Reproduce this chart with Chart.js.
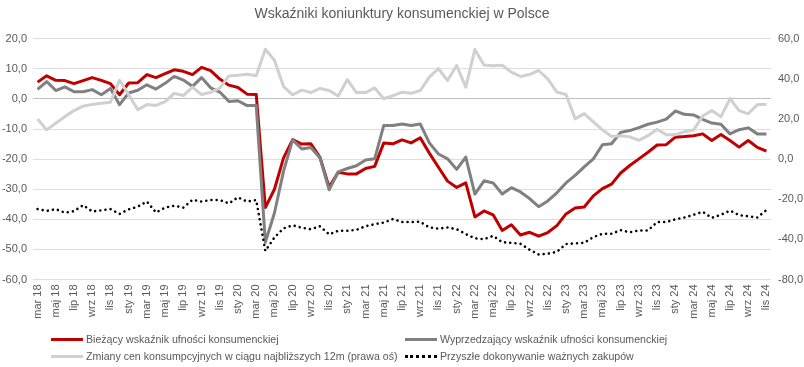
<!DOCTYPE html>
<html><head><meta charset="utf-8">
<script src="https://cdn.jsdelivr.net/npm/chart.js@4/dist/chart.umd.min.js"></script>
<style>
html,body{margin:0;padding:0;background:#fff;}
#wrap{position:relative;width:804px;height:367px;overflow:hidden;}
#c{position:absolute;left:0;top:0;}
#legend{position:absolute;left:0;top:0;width:804px;height:367px;pointer-events:none;font-family:"Liberation Sans",Arial,sans-serif;font-size:10.6px;color:#595959;}
.item{position:absolute;display:flex;align-items:center;white-space:nowrap;height:14px;}
.swatch{display:inline-block;width:32px;height:0;margin-right:3px;}
</style></head>
<body><div id="wrap"><canvas id="c" width="804" height="367" style="width:804px;height:367px"></canvas><div id="legend"></div></div>
<script>
const monthNames = ['sty','lut','mar','kwi','maj','cze','lip','sie','wrz','paź','lis','gru'];
const startYear = 2018, startMonth = 2, monthCount = 81; // mar 18 .. lis 24

const bwuk = [5.6,7.7,6.2,6.1,5.1,6.1,7.1,6.2,5.1,1.4,5.3,5.4,8.1,7.1,8.4,9.7,9.2,8.1,10.5,9.4,
6.6,4.6,3.8,1.6,1.5,-36.1,-30.0,-19.6,-13.5,-15.0,-14.9,-19.4,-29.3,-24.4,-24.9,-24.9,-23.1,-22.4,-14.6,-14.9,
-13.6,-14.6,-12.9,-18.0,-22.7,-27.3,-29.4,-27.9,-39.2,-37.2,-38.5,-43.7,-41.8,-45.2,-44.3,-45.6,-44.4,-42.1,-38.2,-36.2,
-35.9,-32.2,-29.8,-28.3,-24.6,-22.1,-19.9,-17.7,-15.3,-15.2,-12.7,-12.5,-12.2,-11.6,-13.8,-11.8,-13.8,-16.0,-13.8,-16.1,-17.3];

const wwuk = [3.2,5.8,2.8,4.0,2.4,2.4,3.1,1.4,3.5,-1.9,2.0,2.9,4.7,3.3,5.2,7.5,6.3,4.2,7.1,3.7,
2.3,-0.8,-0.6,-2.2,-2.2,-47.6,-37.9,-24.0,-13.6,-16.6,-16.1,-19.6,-30.2,-24.2,-23.1,-22.2,-20.3,-19.9,-8.8,-8.8,
-8.3,-8.8,-8.3,-14.6,-18.3,-19.9,-23.4,-19.3,-31.6,-27.2,-27.9,-31.6,-29.5,-30.9,-33.1,-35.8,-33.9,-31.2,-27.9,-25.4,
-22.6,-19.9,-15.2,-14.9,-11.1,-10.5,-9.5,-8.4,-7.7,-6.7,-4.0,-5.1,-5.3,-6.8,-8.0,-8.4,-11.6,-10.2,-9.6,-11.6,-11.6];

const zmianyCen = [20.0,14.6,17.9,21.2,24.2,26.4,27.3,27.9,28.4,39.3,32.1,24.6,27.2,26.8,28.7,32.8,31.7,35.9,32.2,33.3,
35.4,41.5,41.8,42.3,41.6,54.8,49.3,36.2,32.1,34.4,33.2,35.3,34.2,31.5,39.7,33.2,33.2,35.5,30.1,31.7,
33.4,32.8,34.2,40.9,45.1,39.2,46.7,35.9,54.7,46.9,46.6,46.8,43.4,41.2,42.2,44.2,40.0,33.4,32.2,20.1,
22.7,18.6,14.6,11.3,11.7,11.1,9.4,11.7,14.9,12.2,12.2,13.7,14.5,21.5,24.2,21.1,30.2,24.2,22.6,27.2,27.2];

const zakupy = [-36.6,-37.2,-36.6,-37.8,-37.3,-35.3,-37.4,-37.0,-36.6,-38.2,-36.7,-35.8,-34.1,-37.7,-36.1,-35.5,-36.1,-33.5,-34.1,-33.6,
-33.6,-34.7,-32.7,-34.1,-33.6,-50.5,-46.0,-43.0,-42.0,-42.8,-43.3,-42.3,-45.0,-43.8,-43.8,-43.5,-42.3,-41.6,-41.1,-39.9,
-40.9,-40.9,-40.8,-42.7,-43.1,-42.7,-43.3,-44.9,-46.3,-46.6,-45.5,-47.6,-47.8,-48.1,-50.1,-51.7,-51.4,-50.8,-48.2,-48.0,
-47.8,-45.9,-44.8,-44.8,-43.6,-44.3,-43.7,-43.7,-40.9,-40.9,-40.0,-39.4,-38.5,-37.5,-39.5,-38.5,-37.1,-38.6,-39.0,-39.4,-36.9];

const leftTicks = {min:-60, max:20, step:10};
const rightTicks = {min:-60, max:60, step:20};
// right-axis tick labels as printed in the reference (bottom to top)
const rightTickLabels = ['-80,0','-40,0','-20,0','0,0','20,0','40,0','60,0'];

const categories = [];
for (let k = 0; k < monthCount; k++) {
  const m = (startMonth + k) % 12;
  const y = startYear + Math.floor((startMonth + k) / 12);
  categories.push(monthNames[m] + ' ' + String(y).slice(2));
}

const fmt = v => v.toFixed(1).replace('.', ',');
const FONT = "'Liberation Sans', Arial, sans-serif";
const TXT = '#595959';

const datasets = [
  {label:'Bieżący wskaźnik ufności konsumenckiej', data:bwuk, yAxisID:'y', borderColor:'#C00000', borderWidth:3, order:3},
  {label:'Wyprzedzający wskaźnik ufności konsumenckiej', data:wwuk, yAxisID:'y', borderColor:'#808080', borderWidth:3, order:2},
  {label:'Zmiany cen konsumpcyjnych w ciągu najbliższych 12m (prawa oś)', data:zmianyCen, yAxisID:'y2', borderColor:'#D0D0D0', borderWidth:3, order:0},
  {label:'Przyszłe dokonywanie ważnych zakupów', data:zakupy, yAxisID:'y', borderColor:'#000000', borderWidth:2.6, borderDash:[0.01,5.2], borderCapStyle:'round', order:1}
];
datasets.forEach(d => { d.pointRadius = 0; d.pointHoverRadius = 0; d.fill = false; d.tension = 0; d.borderJoinStyle = 'round'; });

new Chart(document.getElementById('c'), {
  type: 'line',
  data: { labels: categories, datasets },
  options: {
    responsive: false, animation: false,
    layout: { padding: 0 },
    plugins: {
      legend: { display: false },
      tooltip: { enabled: false },
      title: { display: true, text: 'Wskaźniki koniunktury konsumenckiej w Polsce', color: TXT,
        font: { family: FONT, size: 14, weight: 'normal' }, padding: { top: 6, bottom: 16 } }
    },
    scales: {
      x: {
        type: 'category', offset: true,
        grid: { display: false, drawTicks: false }, border: { display: false },
        ticks: { autoSkip: false, maxRotation: 90, minRotation: 90, padding: 5, color: TXT,
          font: { family: FONT, size: 11 },
          callback: (v, i) => (i % 2 === 0 ? categories[i] : '') },
        afterFit: s => { s.height = 87.5; }
      },
      y: {
        position: 'left', min: leftTicks.min, max: leftTicks.max,
        grid: { drawTicks: false, lineWidth: 1, color: c => (c.tick && c.tick.value === 0 ? '#BFBFBF' : '#DEDEDE') },
        border: { display: false },
        ticks: { stepSize: leftTicks.step, padding: 6, color: TXT, font: { family: FONT, size: 11 }, callback: v => fmt(v) },
        afterFit: s => { s.width = 33; }
      },
      y2: {
        position: 'right', min: rightTicks.min, max: rightTicks.max,
        grid: { display: false, drawTicks: false, drawOnChartArea: false },
        border: { display: false },
        ticks: { stepSize: rightTicks.step, padding: 7, color: TXT, font: { family: FONT, size: 11 },
          callback: (v, i) => (rightTickLabels[i] !== undefined ? rightTickLabels[i] : fmt(v)) },
        afterFit: s => { s.width = 33; }
      }
    }
  }
});

// HTML legend in a 2x2 grid
const legendPos = [[51,332],[405,332],[51,349],[405,349]];
const lg = document.getElementById('legend');
datasets.forEach((d, k) => {
  const it = document.createElement('div');
  it.className = 'item';
  it.style.left = legendPos[k][0] + 'px';
  it.style.top = legendPos[k][1] + 'px';
  const sw = document.createElement('span');
  sw.className = 'swatch';
  sw.style.borderTop = d.borderDash ? '3px dotted ' + d.borderColor : '3px solid ' + d.borderColor;
  const tx = document.createElement('span');
  tx.textContent = d.label;
  it.appendChild(sw); it.appendChild(tx);
  lg.appendChild(it);
});
</script>
</body></html>
